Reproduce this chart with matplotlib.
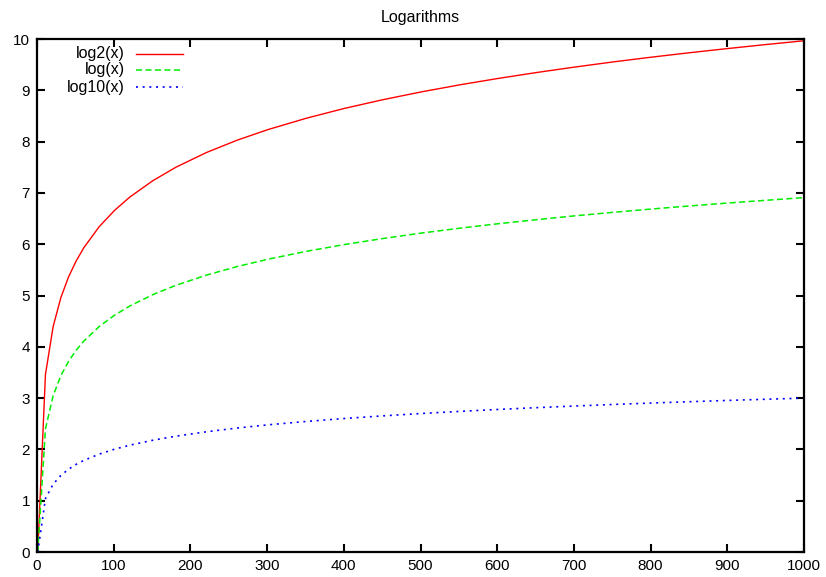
import matplotlib
matplotlib.use("Agg")
import matplotlib.pyplot as plt
from matplotlib.lines import Line2D

# sample points
x = [1, 11, 21, 31, 41, 51, 61, 81, 101, 121, 151, 181, 221, 261, 301,
     351, 401, 451, 501, 551, 601, 651, 701, 751, 801, 851, 901, 951, 1000]
log2_vals = [0.0, 3.459, 4.392, 4.954, 5.358, 5.672, 5.931, 6.340, 6.658,
             6.919, 7.238, 7.500, 7.788, 8.028, 8.234, 8.455, 8.648, 8.817,
             8.969, 9.106, 9.231, 9.346, 9.453, 9.553, 9.646, 9.733, 9.815,
             9.893, 9.966]
ln_vals = [0.0, 2.398, 3.045, 3.434, 3.714, 3.932, 4.111, 4.394, 4.615,
           4.796, 5.017, 5.198, 5.398, 5.565, 5.707, 5.861, 5.994, 6.111,
           6.217, 6.312, 6.399, 6.478, 6.553, 6.621, 6.686, 6.746, 6.803,
           6.857, 6.908]
log10_vals = [0.0, 1.041, 1.322, 1.491, 1.613, 1.708, 1.785, 1.908, 2.004,
              2.083, 2.179, 2.258, 2.344, 2.417, 2.479, 2.545, 2.603, 2.654,
              2.700, 2.741, 2.779, 2.814, 2.846, 2.876, 2.904, 2.930, 2.955,
              2.978, 3.000]

labels = ["log2(x)", "log(x)", "log10(x)"]
xticks = list(range(0, 1001, 100))
yticks = list(range(0, 11))

plt.rcParams['font.family'] = ['Liberation Sans', 'DejaVu Sans']

fig = plt.figure(figsize=(8.26, 5.77), dpi=100)
ax = fig.add_axes([0.0448, 0.0433, 0.9286, 0.8891])

styles = [
    dict(color='#ff0000', lw=1.0),
    dict(color='#00ee00', lw=1.1, dashes=(4, 2.2)),
    dict(color='#0000ff', lw=1.2, dashes=(1.2, 2.8)),
]
for vals, st in zip([log2_vals, ln_vals, log10_vals], styles):
    ax.plot(x, vals, **st)

ax.set_xlim(0, 1000)
ax.set_ylim(0, 10)
ax.set_xticks(xticks)
ax.set_yticks(yticks)
ax.tick_params(direction='in', length=6, width=1.5, labelsize=11,
               top=True, right=True, pad=5)
for s in ax.spines.values():
    s.set_linewidth(1.6)

ax.set_title("Logarithms", fontsize=11.5, pad=12)

# gnuplot-style key: right-aligned text, sample line to the right
key_y = [0.9708, 0.9396, 0.9064]
for lab, st, ky in zip(labels, styles, key_y):
    ax.text(0.1147, ky, lab, transform=ax.transAxes, ha='right',
            va='center', fontsize=11.5)
    ax.add_line(Line2D([0.129, 0.190], [ky, ky], transform=ax.transAxes,
                       **st))

fig.savefig("out.png", dpi=100)
